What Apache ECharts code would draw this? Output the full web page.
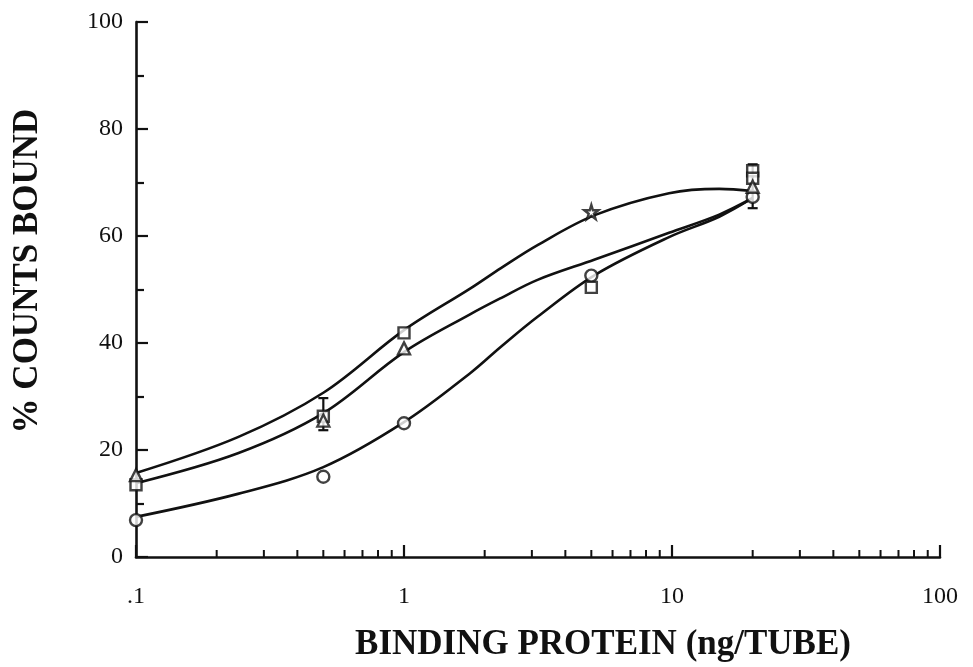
<!DOCTYPE html>
<html>
<head>
<meta charset="utf-8">
<script src="https://cdn.jsdelivr.net/npm/echarts@6/dist/echarts.min.js"></script>
<style>
  html, body { margin: 0; padding: 0; background: #fff; }
  #chart { width: 973px; height: 667px; }
</style>
</head>
<body>
<div id="chart"></div>
<script>
// Binding curves: % counts bound vs. binding protein (log scale)
const xTickLabels = { 0.1: '.1', 1: '1', 10: '10', 100: '100' };
const xMinorTicks = [0.2, 0.3, 0.4, 0.5, 0.6, 0.7, 0.8, 0.9,
                     2, 3, 4, 5, 6, 7, 8, 9,
                     20, 30, 40, 50, 60, 70, 80, 90];
const xTitle = 'BINDING PROTEIN (ng/TUBE)';
const yTitle = '% COUNTS BOUND';

// measured points
const circleX = [0.1, 0.5, 1, 5, 20];
const circleY = [6.9, 15.0, 25.0, 52.6, 67.3];
const squareX = [0.1, 0.5, 1, 5, 20, 20];
const squareY = [13.5, 26.3, 41.9, 50.4, 72.2, 70.8];
const triangleX = [0.1, 0.5, 1, 20];
const triangleY = [15.3, 25.5, 39.0, 69.2];
const starX = [5];
const starY = [64.5];

// error bars
const errX = [0.5, 20];
const errLow = [23.7, 65.2];
const errHigh = [29.7, 73.4];

// fitted curves
const curveX = [0.1, 0.24, 0.5, 1, 1.77, 2.3, 3.15, 5.15, 9.75, 15, 20];
const curveTop = [15.7, 22.4, 30.7, 42.4, 50.2, 54.0, 58.3, 63.9, 68.0, 68.8, 68.4];
const curveMid = [13.8, 19.4, 26.9, 38.3, 45.4, 48.4, 51.8, 55.6, 60.6, 64.0, 67.1];
const curveLow = [7.5, 11.8, 16.8, 25.2, 34.4, 39.3, 44.9, 52.7, 59.8, 63.6, 67.1];

const ink = '#111';
const serif = '"Liberation Serif", "Times New Roman", serif';
const zip = (xs, ys) => xs.map((x, i) => [x, ys[i]]);

const starPath = 'path://M50,0 L61,35 L98,35 L68,57 L79,91 L50,70 L21,91 L32,57 L2,35 L39,35 Z';

function markerSeries(name, xs, ys, symbol, size) {
  return {
    name, type: 'scatter', data: zip(xs, ys), symbol, symbolSize: size,
    itemStyle: { color: '#fff', borderColor: ink, borderWidth: 2.4 },
    z: 5, silent: true
  };
}

function curveSeries(name, ys) {
  return {
    name, type: 'line', data: zip(curveX, ys), smooth: 0.35,
    showSymbol: false, lineStyle: { color: ink, width: 2.6 }, z: 3, silent: true
  };
}

const titleFont = { fontFamily: serif, fontWeight: 'bold', fontSize: 35, fill: ink };

const chart = echarts.init(document.getElementById('chart'), null, { renderer: 'canvas' });
chart.setOption({
  animation: false,
  backgroundColor: '#fff',
  grid: { left: 136, right: 33, top: 22, bottom: 110 },
  graphic: [
    {
      type: 'text', x: 603, y: 645,
      style: Object.assign({ text: xTitle, align: 'center', verticalAlign: 'middle' }, titleFont)
    },
    {
      type: 'text', x: 28, y: 271, rotation: Math.PI / 2,
      style: Object.assign({ text: yTitle, align: 'center', verticalAlign: 'middle' }, titleFont)
    }
  ],
  xAxis: {
    type: 'log', logBase: 10, min: 0.1, max: 100,
    axisLine: { lineStyle: { color: ink, width: 2.6 } },
    axisTick: { inside: true, length: 12, lineStyle: { color: ink, width: 2.2 } },
    axisLabel: {
      margin: 28, fontFamily: serif, fontSize: 24, color: ink,
      formatter: v => xTickLabels[v] !== undefined ? xTickLabels[v] : ''
    },
    splitLine: { show: false }
  },
  yAxis: {
    type: 'value', min: 0, max: 100, interval: 20,
    axisLine: { show: true, lineStyle: { color: ink, width: 2.6 } },
    axisTick: { show: true, inside: true, length: 12, lineStyle: { color: ink, width: 2.2 } },
    minorTick: { show: true, splitNumber: 2, length: 8, lineStyle: { color: ink, width: 2.2 } },
    axisLabel: { margin: 13, fontFamily: serif, fontSize: 24, color: ink },
    splitLine: { show: false }
  },
  series: [
    {
      type: 'custom', name: 'minor ticks', silent: true, clip: false, z: 2,
      data: xMinorTicks.map(v => [v, 0]),
      renderItem: (params, api) => {
        const p = api.coord([api.value(0), 0]);
        return {
          type: 'line',
          shape: { x1: p[0], y1: p[1], x2: p[0], y2: p[1] - 7 },
          style: { stroke: ink, lineWidth: 2 }
        };
      }
    },
    {
      type: 'custom', name: 'error bars', silent: true, z: 4,
      data: errX.map((x, i) => [x, errLow[i], errHigh[i]]),
      renderItem: (params, api) => {
        const lo = api.coord([api.value(0), api.value(1)]);
        const hi = api.coord([api.value(0), api.value(2)]);
        const w = 5;
        const st = { stroke: ink, lineWidth: 2.2 };
        return {
          type: 'group',
          children: [
            { type: 'line', shape: { x1: lo[0], y1: lo[1], x2: hi[0], y2: hi[1] }, style: st },
            { type: 'line', shape: { x1: lo[0] - w, y1: lo[1], x2: lo[0] + w, y2: lo[1] }, style: st },
            { type: 'line', shape: { x1: hi[0] - w, y1: hi[1], x2: hi[0] + w, y2: hi[1] }, style: st }
          ]
        };
      }
    },
    curveSeries('top curve', curveTop),
    curveSeries('middle curve', curveMid),
    curveSeries('low curve', curveLow),
    markerSeries('circles', circleX, circleY, 'circle', 12),
    markerSeries('squares', squareX, squareY, 'rect', 11),
    markerSeries('triangles', triangleX, triangleY, 'triangle', 12),
    markerSeries('star', starX, starY, starPath, 14)
  ]
});
</script>
</body>
</html>
